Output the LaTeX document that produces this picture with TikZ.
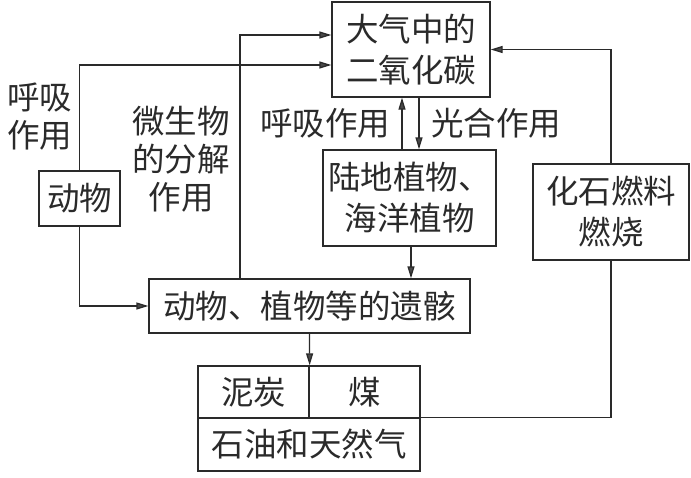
\documentclass[tikz,border=0pt]{standalone}
\usepackage{fontspec}
\newfontfamily\cjk{Noto Sans CJK SC}
\usetikzlibrary{arrows.meta,positioning}
\definecolor{ink}{HTML}{2A2A2A}
\definecolor{tipc}{HTML}{4A4A4A}
\tikzset{
  box/.style={draw=ink, line width=1.3pt, inner sep=0pt, align=center, text=ink, font=\cjk\fontsize{32.5}{41}\selectfont},
  lbl/.style={inner sep=0pt, align=center, text=ink, font=\cjk\fontsize{32.5}{38}\selectfont},
  conn/.style={draw=ink, line width=1.3pt},
  arr/.style={conn, -{Triangle[length=12pt,width=7pt,fill=tipc]}}
}
\begin{document}
\begin{tikzpicture}[x=1pt,y=-1pt]
\useasboundingbox (0,0) rectangle (691,477);
% boxes
\node[box, minimum width=158pt, minimum height=95pt] (co2) at (411,49.5) {大气中的\\二氧化碳};
\node[box, minimum width=173pt, minimum height=96pt] (plant) at (409.5,198) {陆地植物、\\海洋植物};
\node[box, minimum width=156pt, minimum height=96pt] (fossil) at (611,212) {化石燃料\\燃烧};
\node[box, minimum width=81pt, minimum height=55pt] (animal) at (79.5,198.5) {动物};
\node[box, minimum width=321pt, minimum height=54pt] (remains) at (309.5,306) {动物、植物等的遗骸};
\node[box, minimum width=111pt, minimum height=52pt] (peat) at (253.5,392) {泥炭};
\node[box, minimum width=111pt, minimum height=52pt] (coal) at (364.5,392) {煤};
\node[box, minimum width=222pt, minimum height=53pt] (oil) at (309,444.5) {石油和天然气};
% labels
\node[lbl] (l1) at (40,117) {呼吸\\作用};
\node[lbl] (l2) at (181,159) {微生物\\的分解\\作用};
\node[lbl] (l3) at (325,123) {呼吸作用};
\node[lbl] (l4) at (496,123) {光合作用};
% helper coordinates
\coordinate (mx) at (240,35);
\coordinate (ax) at (80,65);
\coordinate (up) at (402,0);
\coordinate (dn) at (419,0);
\coordinate (pd) at (411,0);
% connectors
\draw[arr] (animal.north) |- (co2.west |- ax);
\draw[arr] (remains.north -| mx) |- (co2.west |- mx);
\draw[arr] (animal.south) |- (remains.west);
\draw[arr] (plant.north -| up) -- (co2.south -| up);
\draw[arr] (co2.south -| dn) -- (plant.north -| dn);
\draw[arr] (plant.south -| pd) -- (remains.north -| pd);
\draw[arr] (remains.south) -- (peat.north east);
\draw[arr] (fossil.north) |- (co2.east);
\draw[conn] (oil.north east) -| (fossil.south);
\end{tikzpicture}
\end{document}
